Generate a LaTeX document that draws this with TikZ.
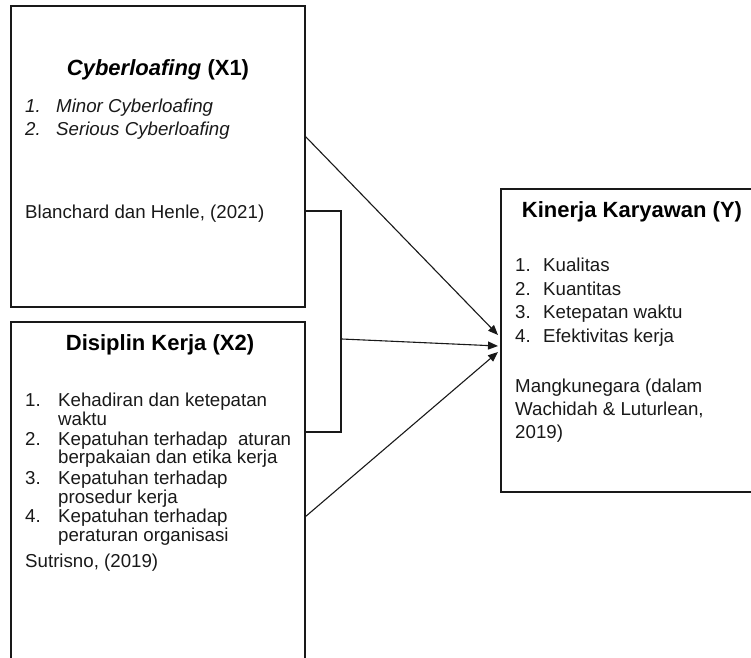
\documentclass[tikz,border=0pt]{standalone}
\usepackage{fontspec}
\setmainfont{Liberation Sans}
\usetikzlibrary{arrows.meta}
\tikzset{
  box/.style={draw=black!90, line width=1.2pt, inner sep=0pt, outer sep=0pt, anchor=north west},
  ttl/.style={anchor=base, inner sep=0pt, font=\fontsize{22}{24}\selectfont\bfseries},
  txt/.style={anchor=base west, inner sep=0pt, font=\fontsize{18.7}{19}\selectfont, text=black!90},
  itx/.style={txt, font=\fontsize{18.7}{19}\selectfont\itshape},
  conn/.style={draw=black!90, line width=1.1pt},
  arr/.style={conn, -{Triangle[length=10pt,width=8pt]}}
}
\begin{document}
\begin{tikzpicture}[x=1pt,y=-1pt]
\useasboundingbox (0,0) rectangle (751,657);
\clip (0,0) rectangle (751,657);
% boxes
\node[box, minimum width=294pt, minimum height=301pt] (x1) at (11,6) {};
\node[box, minimum width=294pt, minimum height=400pt] (x2) at (11,322) {};
\node[box, minimum width=262pt, minimum height=303pt] (y) at (501,189) {};
% X1 text
\node[ttl] (x1t) at (158,75) {\textit{Cyberloafing} (X1)};
\node[itx] (x1n1) at (25,112) {1.};
\node[itx] (x1i1) at (56,112) {Minor Cyberloafing};
\node[itx] (x1n2) at (25,135) {2.};
\node[itx] (x1i2) at (56,135) {Serious Cyberloafing};
\node[txt] (x1s) at (25,218) {Blanchard dan Henle, (2021)};
% X2 text
\node[ttl] (x2t) at (160,350) {Disiplin Kerja (X2)};
\node[txt] (x2n1) at (25,406) {1.};
\node[txt] (x2i1a) at (58,406) {Kehadiran dan ketepatan};
\node[txt] (x2i1b) at (58,425) {waktu};
\node[txt] (x2n2) at (25,445) {2.};
\node[txt] (x2i2a) at (58,445) {Kepatuhan terhadap\ \ aturan};
\node[txt] (x2i2b) at (58,463) {berpakaian dan etika kerja};
\node[txt] (x2n3) at (25,484) {3.};
\node[txt] (x2i3a) at (58,484) {Kepatuhan terhadap};
\node[txt] (x2i3b) at (58,503) {prosedur kerja};
\node[txt] (x2n4) at (25,522) {4.};
\node[txt] (x2i4a) at (58,522) {Kepatuhan terhadap};
\node[txt] (x2i4b) at (58,541) {peraturan organisasi};
\node[txt] (x2s) at (25,567) {Sutrisno, (2019)};
% Y text
\node[ttl] (yt) at (632,217) {Kinerja Karyawan (Y)};
\node[txt] (yn1) at (515,271) {1.};
\node[txt] (yi1) at (543,271) {Kualitas};
\node[txt] (yn2) at (515,295) {2.};
\node[txt] (yi2) at (543,295) {Kuantitas};
\node[txt] (yn3) at (515,318) {3.};
\node[txt] (yi3) at (543,318) {Ketepatan waktu};
\node[txt] (yn4) at (515,342) {4.};
\node[txt] (yi4) at (543,342) {Efektivitas kerja};
\node[txt] (ys1) at (515,392) {Mangkunegara (dalam};
\node[txt] (ys2) at (515,415) {Wachidah \& Luturlean,};
\node[txt] (ys3) at (515,438) {2019)};
% connector points
\coordinate (b1) at (305,211);
\coordinate (b2) at (341,211);
\coordinate (b3) at (341,432);
\coordinate (b4) at (305,432);
\coordinate (bm) at (342,339);
\coordinate (s1) at (305,136);
\coordinate (s3) at (305,517);
\coordinate (t1) at (498,335);
\coordinate (t2) at (498,346);
\coordinate (t3) at (498,352);
% bracket
\draw[conn] (b1) -- (b2) -- (b3) -- (b4);
% arrows
\draw[arr] (s1) -- (t1);
\draw[arr] (bm) -- (t2);
\draw[arr] (s3) -- (t3);
\end{tikzpicture}
\end{document}
